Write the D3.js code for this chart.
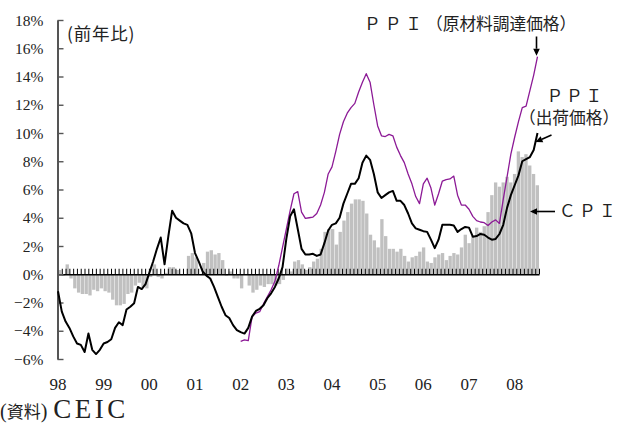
<!DOCTYPE html>
<html>
<head>
<meta charset="utf-8">
<script src="https://cdn.jsdelivr.net/npm/d3@7"></script>
<style>
  body { margin: 0; background: #fff; }
  svg { display: block; }
</style>
</head>
<body>
<svg id="chart" width="619" height="423"></svg>
<script>
// Year tick labels (two-digit years)
const yearLabels = ["98","99","00","01","02","03","04","05","06","07","08"];
const firstYear = 1998;

// Consumer prices, year on year %, monthly from Jan 1998
const cpi = [
  0.3,-0.1, 0.7,-0.3,-1.0,-1.3,-1.4,-1.4,-1.5,-1.1,-1.2,-1.0,
 -1.2,-1.3,-1.8,-2.2,-2.2,-2.1,-1.4,-1.3,-0.8,-0.6,-0.9,-1.0,
 -0.2, 0.7,-0.2,-0.3, 0.1, 0.5, 0.5, 0.3, 0.0, 0.0, 1.3, 1.5,
  1.2, 0.0, 0.8, 1.6, 1.7, 1.4, 1.5, 1.0,-0.1, 0.2,-0.3,-0.3,
 -1.0, 0.0,-0.8,-1.3,-1.1,-0.8,-0.9,-0.7,-0.7,-0.8,-0.7,-0.4,
  0.4, 0.2, 0.9, 1.0, 0.7, 0.3, 0.5, 0.9, 1.1, 1.8, 3.0, 3.2,
  3.2, 2.1, 3.0, 3.8, 4.4, 5.0, 5.3, 5.3, 5.2, 4.3, 2.8, 2.4,
  1.9, 3.9, 2.7, 1.8, 1.8, 1.6, 1.8, 1.3, 0.9, 1.2, 1.3, 1.6,
  1.9, 0.9, 0.8, 1.2, 1.4, 1.5, 1.0, 1.3, 1.5, 1.4, 1.9, 2.8,
  2.2, 2.7, 3.3, 3.0, 3.4, 4.4, 5.6, 6.5, 6.2, 6.5, 6.9, 6.5,
  7.1, 8.7, 8.3, 8.5, 7.7, 7.1, 6.3
];

// Producer prices (ex-factory), year on year %, monthly from Jan 1998
const ppi = [
 -1.2,-2.65,-3.35,-3.8,-4.4,-4.9,-5.0,-5.5,-4.2,-5.35,-5.65,-5.35,
 -4.9,-4.8,-4.6,-3.8,-3.4,-3.6,-2.5,-2.3,-2.05,-0.9,-1.05,-0.7,
  0.1, 0.9, 1.8, 2.6, 0.7, 2.7, 4.5, 4.0, 3.8, 3.6, 3.5, 2.9,
  1.5, 0.9, 0.2,-0.1,-0.3,-0.9,-1.6,-2.3,-2.9,-3.1,-3.6,-3.95,
 -4.1,-4.2,-3.8,-3.0,-2.6,-2.45,-2.2,-1.7,-1.35,-0.9,-0.3, 0.5,
  2.5, 4.1, 4.6, 3.2, 1.8, 1.4, 1.4, 1.45, 1.3, 1.4, 2.2, 3.1,
  3.5, 3.6, 4.0, 5.0, 5.7, 6.4, 6.4, 6.8, 7.9, 8.4, 8.1, 7.1,
  5.8, 5.4, 5.6, 5.8, 5.9, 5.2, 5.2, 4.9, 4.3, 3.6, 3.25, 3.15,
  3.05, 3.0, 2.45, 1.85, 2.45, 3.5, 3.5, 3.5, 3.45, 3.0, 3.2, 3.35,
  3.3, 2.66, 2.7, 2.85, 2.8, 2.6, 2.45, 2.5, 2.85, 3.5, 4.7, 5.6,
  6.3, 7.0, 8.0, 8.15, 8.3, 8.8, 10.0
];

// Producer prices for raw material purchases, year on year %, monthly from Jan 2002
const ppiRawFrom = "2002-01";
const ppiRaw = [
 -4.75,-4.65,-4.7,-3.0,-2.75,-2.65,-2.1,-1.6,-1.1,-0.5, 0.6, 1.9,
  3.2, 4.5, 5.7, 5.85, 4.4, 3.95, 4.0, 4.05, 4.3, 4.9, 5.8, 7.1,
  7.6, 8.7, 9.9, 10.8, 11.4, 11.8, 12.1, 12.9, 13.6, 14.2, 13.6, 12.0,
  10.5, 9.8, 9.75, 9.9, 9.8, 9.0, 8.4, 7.9, 7.1, 6.4, 5.5, 5.0,
  6.4, 6.8, 6.1, 4.9, 5.7, 6.6, 6.7, 6.75, 6.95, 5.6, 4.9, 4.9,
  4.6, 4.1, 3.8, 3.7, 3.65, 3.45, 3.7, 3.85, 3.6, 5.3, 6.9, 8.5,
  9.7, 10.8, 11.8, 11.9, 13.0, 14.1, 15.4
];

const yTicks = d3.range(-6, 19, 2);

// Month keys "YYYY-MM"
const months = cpi.map((_, i) =>
  `${firstYear + Math.floor(i / 12)}-${String(i % 12 + 1).padStart(2, "0")}`);

const serif = "'Liberation Serif', 'DejaVu Serif', serif";
const jp = "'Noto Sans CJK JP', 'Noto Sans', sans-serif";

const svg = d3.select("#chart");
const plot = { left: 58, right: 539, top: 20, bottom: 359 };

const xBand = d3.scaleBand().domain(months).range([plot.left, plot.right]).paddingInner(0.12);
const xPt = d3.scalePoint().domain(months).range([plot.left, plot.right - 1.5]);
const xMonth = d3.scaleLinear().domain([0, months.length]).range([plot.left, plot.right]);
const y = d3.scaleLinear().domain([-6, 18]).range([plot.bottom, plot.top]);

// CPI bars
svg.append("g").selectAll("rect")
  .data(cpi.map((v, i) => ({ m: months[i], v })))
  .join("rect")
  .attr("x", d => xBand(d.m))
  .attr("width", xBand.bandwidth())
  .attr("y", d => Math.min(y(d.v), y(0)))
  .attr("height", d => Math.abs(y(d.v) - y(0)))
  .attr("fill", "#c0c0c0");

// Zero line with monthly ticks
const zeroAxis = svg.append("g")
  .attr("transform", `translate(0,${y(0)})`)
  .call(d3.axisTop(xMonth).tickValues(d3.range(months.length + 1))
    .tickSize(5.5).tickSizeOuter(0).tickFormat(""));
zeroAxis.select(".domain").attr("stroke", "#000").attr("stroke-width", 1.6);
zeroAxis.selectAll(".tick line").attr("stroke", "#000").attr("stroke-width", 1);

// Y axis
const yAxis = svg.append("g")
  .attr("transform", `translate(${plot.left - 0.5},0)`)
  .call(d3.axisRight(y).tickValues(yTicks).tickSize(6).tickSizeOuter(0).tickFormat(""));
yAxis.select(".domain").attr("stroke", "#555").attr("stroke-width", 2);
yAxis.selectAll(".tick line").attr("stroke", "#555").attr("stroke-width", 1.4);

svg.append("g").selectAll("text")
  .data(yTicks)
  .join("text")
  .attr("x", 43.5)
  .attr("y", d => y(d) + 5.5)
  .attr("text-anchor", "end")
  .attr("font-family", serif)
  .attr("font-size", 15.5)
  .attr("fill", "#222")
  .text(d => (d < 0 ? "\u2212" + Math.abs(d) : d) + "%");

// Year labels
svg.append("g").selectAll("text")
  .data(yearLabels)
  .join("text")
  .attr("x", (d, i) => xPt(months[i * 12]))
  .attr("y", 390)
  .attr("text-anchor", "middle")
  .attr("font-family", serif)
  .attr("font-size", 17)
  .attr("fill", "#222")
  .text(d => d);

// Lines
const line = d3.line().x(d => xPt(d.m)).y(d => y(d.v));
const rawStart = months.indexOf(ppiRawFrom);
const rawData = ppiRaw.map((v, i) => ({ m: months[rawStart + i], v }));
const ppiData = ppi.map((v, i) => ({ m: months[i], v }));

svg.append("path").datum(rawData)
  .attr("d", line).attr("fill", "none")
  .attr("stroke", "#8c1a96").attr("stroke-width", 1.3)
  .attr("stroke-linejoin", "round");

svg.append("path").datum(ppiData)
  .attr("d", line).attr("fill", "none")
  .attr("stroke", "#000").attr("stroke-width", 2)
  .attr("stroke-linejoin", "round");

// Annotation arrows
function arrow(x1, y1, x2, y2) {
  const a = Math.atan2(y2 - y1, x2 - x1);
  const len = 7, half = 3.3;
  const bx = x2 - len * Math.cos(a), by = y2 - len * Math.sin(a);
  svg.append("line")
    .attr("x1", x1).attr("y1", y1).attr("x2", bx).attr("y2", by)
    .attr("stroke", "#000").attr("stroke-width", 1.6);
  svg.append("path")
    .attr("d", `M${x2},${y2}L${bx - half * Math.sin(a)},${by + half * Math.cos(a)}L${bx + half * Math.sin(a)},${by - half * Math.cos(a)}Z`)
    .attr("fill", "#000");
}

const lastRaw = rawData[rawData.length - 1];
const lastPpi = ppiData[ppiData.length - 1];
arrow(xPt(lastRaw.m) - 1, 36.5, xPt(lastRaw.m) - 1, y(lastRaw.v) - 1);
arrow(551.5, 135, xPt(lastPpi.m) - 2, y(lastPpi.v) + 9);
arrow(555, 211.5, plot.right - 9, 211.5);

// Labels
const t1 = svg.append("text").attr("x", 364).attr("y", 30)
  .attr("font-family", jp).attr("font-size", 16.7).attr("fill", "#222");
t1.append("tspan").attr("letter-spacing", 4).text("ＰＰＩ");
t1.append("tspan").text("（原材料調達価格）");

svg.append("text").attr("x", 546.5).attr("y", 102)
  .attr("font-family", jp).attr("font-size", 16.7).attr("fill", "#222")
  .attr("letter-spacing", 2.8).text("ＰＰＩ");
svg.append("text").attr("x", 519).attr("y", 124)
  .attr("font-family", jp).attr("font-size", 16.7).attr("fill", "#222")
  .text("（出荷価格）");

svg.append("text").attr("x", 559).attr("y", 217)
  .attr("font-family", jp).attr("font-size", 16.7).attr("fill", "#222")
  .attr("letter-spacing", 3.3).text("ＣＰＩ");

svg.append("text").attr("x", 67).attr("y", 40)
  .attr("font-family", jp).attr("font-size", 17.5).attr("fill", "#222")
  .attr("letter-spacing", 0.8)
  .text("(前年比)");

const src = svg.append("text").attr("x", 0).attr("y", 417.5).attr("fill", "#222");
src.append("tspan").attr("font-family", serif).attr("font-size", 20).text("(");
src.append("tspan").attr("font-family", jp).attr("font-size", 17).text("資料");
src.append("tspan").attr("font-family", serif).attr("font-size", 20).text(")");
src.append("tspan").attr("font-family", serif).attr("font-size", 27).attr("dx", 6)
  .attr("letter-spacing", 3.5).text("CEIC");
</script>
</body>
</html>
